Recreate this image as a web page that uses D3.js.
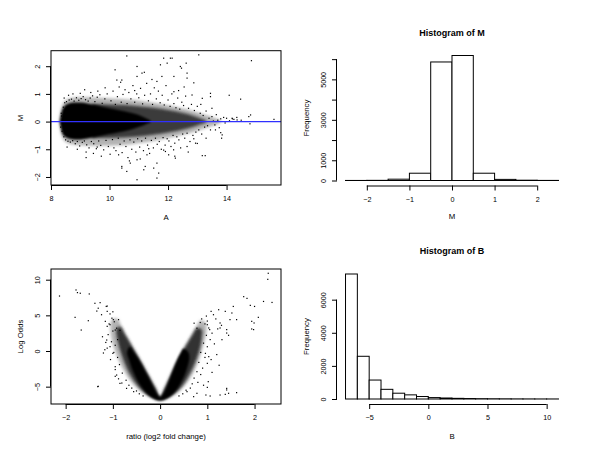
<!DOCTYPE html>
<html><head><meta charset="utf-8">
<script src="https://cdn.jsdelivr.net/npm/d3@7"></script>
<style>
body{margin:0;background:#fff}
svg{display:block}
text{font-family:"Liberation Sans",Arial,Helvetica,sans-serif;fill:#000}
</style>
</head><body>
<svg id="c" width="600" height="464"></svg>
<script>
// ---------------- DATA ----------------
// Panel 1: MA plot (A vs M)
const maXTicks = [8, 10, 12, 14];
const maYTicks = [-2, -1, 0, 1, 2];
// density envelopes of the point cloud (A, upper M, lower M)
const maFringeA  = [8.28, 8.34, 8.45, 8.65, 9.0, 9.4, 9.8, 10.2, 10.6, 11.0, 11.5, 12.0, 12.5, 13.0, 13.4, 13.8];
const maFringeHi = [0.05, 0.5, 0.76, 0.86, 0.88, 0.87, 0.85, 0.82, 0.8, 0.76, 0.68, 0.6, 0.48, 0.34, 0.2, 0.05];
const maFringeLo = [-0.05, -0.5, -0.72, -0.82, -0.86, -0.88, -0.88, -0.86, -0.84, -0.78, -0.7, -0.6, -0.48, -0.34, -0.2, -0.05];
const maMidA  = [9.4, 10.0, 10.5, 11.0, 11.5, 12.0, 12.5, 12.9, 13.3];
const maMidHi = [0.64, 0.62, 0.6, 0.56, 0.5, 0.42, 0.32, 0.2, 0.04];
const maMidLo = [-0.6, -0.6, -0.58, -0.54, -0.48, -0.4, -0.3, -0.18, -0.04];
const maCoreA  = [8.3, 8.36, 8.45, 8.6, 8.8, 9.0, 9.25, 9.5, 9.75, 10.0, 10.25, 10.5, 10.8, 11.1, 11.4];
const maCoreHi = [0.0, 0.38, 0.57, 0.66, 0.69, 0.69, 0.66, 0.6, 0.54, 0.48, 0.43, 0.38, 0.3, 0.2, 0.04];
const maCoreLo = [0.0, -0.38, -0.55, -0.62, -0.65, -0.65, -0.62, -0.56, -0.5, -0.45, -0.4, -0.35, -0.27, -0.17, -0.03];
// individual points (A, M)
const maPoints = [
[10.59,2.37],[11.85,2.29],[12.14,2.29],[13.05,2.41],[14.85,2.2],[11.97,2.11],[10.94,1.99],[10.19,1.87],[11.19,1.78],[12.62,2.11],
[12.65,1.75],[12.46,1.93],[12.2,1.63],[11.62,1.45],[11.79,1.63],[10.25,1.5],[10.94,1.63],[12.88,1.4],[12.2,1.08],[13.45,1.02],
[14.09,0.95],[14.48,0.81],[13.45,0.9],[13.17,0.84],[14.25,0.08],[14.76,0.18],[15.62,0.08],[14.8,-0.08],[13.85,-0.48],[13.17,-1.23],
[13.27,-1.23],[12.65,-0.9],[12.23,-1.25],[11.62,-1.5],[11.68,-1.86],[10.94,-2.1],[10.59,-1.8],[10.42,-1.62],[10.94,-1.38],[11.17,-1.74],
[9.2,-1.3],[11.28,-1.2],[10.31,-1.2],[11.85,-1.03],[13.0,-0.79],[10.42,1.5],[11.11,1.75],[11.74,2.05],[10.42,-1.68],[10.71,-1.5],
[11.22,-1.62],[11.51,-1.68],[11.62,-2.04],[14.82,0.24],[14.19,0.12],[14.36,0.06],[13.83,-0.6],[12.94,-0.78],[12.25,-1.32],[12.69,-1.1],
[11.91,-1.08],[12.19,-1.02],[12.82,0.96],[12.65,1.57],[12.42,1.99],[12.08,2.29],
[8.35,0.3],[8.38,-0.35],[8.42,0.52],[8.44,-0.55],[8.47,0.68],[8.5,-0.66],[8.53,0.72],[8.58,-0.71],[8.62,0.78],[8.66,-0.74],
[8.7,0.81],[8.74,-0.69],[8.79,0.74],[8.83,-0.8],[8.87,0.86],[8.9,-0.72],[8.95,0.77],[8.98,-0.88],[9.03,0.83],[9.07,-0.75],
[9.1,0.9],[9.14,-0.7],[9.18,0.79],[9.22,-0.84],[9.27,0.74],[9.3,-0.95],[9.34,0.85],[9.38,-0.72],[9.42,0.93],[9.46,-0.8],
[9.5,0.72],[9.55,-0.98],[9.58,0.88],[9.63,-0.7],[9.67,0.97],[9.7,-0.86],[9.75,0.66],[9.8,-1.02],[9.84,0.82],[9.88,-0.68],
[9.92,1.0],[9.96,-0.9],[8.6,0.95],[8.9,-1.0],[9.0,1.02],[9.2,-1.1],[8.45,0.85],[9.6,1.1],[9.45,-1.15],[8.33,-0.2],[8.36,0.2],
[10.05,0.75],[10.1,-0.65],[10.12,1.1],[10.15,-0.95],[10.2,0.62],[10.22,-1.05],[10.27,0.9],[10.3,-0.6],[10.33,1.25],[10.36,-0.82],
[10.4,0.7],[10.43,-1.12],[10.46,0.98],[10.5,-0.7],[10.53,1.15],[10.56,-0.9],[10.6,0.65],[10.63,-1.3],[10.66,1.05],[10.7,-0.66],
[10.73,0.82],[10.76,-1.0],[10.8,1.3],[10.83,-0.74],[10.86,0.7],[10.9,-1.1],[10.93,1.0],[10.96,-0.62],[11.0,0.86],[11.03,-0.92],
[11.06,1.2],[11.1,-0.7],[11.13,0.64],[11.16,-1.05],[11.2,0.95],[11.23,-0.6],[11.27,1.38],[11.3,-0.85],[11.33,0.75],[11.37,-1.15],
[11.4,1.0],[11.43,-0.68],[11.47,0.62],[11.5,-0.95],[11.53,1.22],[11.57,-0.6],[11.6,0.82],[11.63,-0.82],[11.67,1.1],[11.7,-0.72],
[11.73,0.68],[11.77,-1.0],[11.8,0.95],[11.83,-0.58],[11.87,0.6],[11.9,-0.85],[11.93,1.3],[11.97,-0.62],
[12.0,0.78],[12.03,-0.7],[12.07,0.55],[12.1,-0.9],[12.13,1.0],[12.17,-0.5],[12.2,0.65],[12.23,-0.78],[12.27,0.5],[12.3,-0.55],
[12.33,0.85],[12.37,-0.66],[12.4,0.45],[12.43,-0.95],[12.47,0.7],[12.5,-0.45],[12.53,0.58],[12.57,-0.6],[12.6,0.92],[12.65,-0.42],
[12.7,0.48],[12.75,-0.72],[12.8,0.62],[12.85,-0.5],[12.9,0.4],[12.95,-0.38],[13.0,0.55],[13.05,-0.3],[13.1,0.3],[13.15,-0.45],
[13.2,0.22],[13.25,-0.2],[13.3,0.38],[13.35,-0.15],[13.4,0.12],[13.45,-0.3],[13.5,0.18],[13.55,0.02],[13.6,-0.12],[13.65,0.25],
[13.7,0.05],[13.75,-0.22],[13.8,0.1],[13.9,0.15],[13.95,-0.05],[14.0,0.12],[14.1,0.03],[14.2,0.1],[14.35,0.15],[14.5,0.05],
[13.5,0.48],[13.3,-0.6],[13.8,-0.4],
[9.15,1.15],[9.85,1.22],[10.02,-1.18],[9.72,-1.25],[10.38,1.42],[10.68,-1.42],[11.45,1.52],[11.05,-1.35],[12.55,1.25],[12.02,-1.2],
[8.75,1.0],[8.55,-0.92],[9.36,1.05],[9.58,-0.92],[10.86,1.12],[11.34,-0.98],[12.36,1.12],[12.88,-0.62],[13.12,0.62],[13.62,-0.3]
];

// Panel 2: histogram of M
const histMBreaks = [-2.5, -2, -1.5, -1, -0.5, 0, 0.5, 1, 1.5, 2, 2.5];
const histMCounts = [3, 8, 65, 360, 5860, 6180, 360, 55, 15, 5];
const histMXTicks = [-2, -1, 0, 1, 2];
const histMYTicks = [0, 1000, 2000, 3000, 4000, 5000, 6000];
const histMYLabels = [0, 1000, 3000, 5000];

// Panel 3: volcano plot (ratio, log odds)
const volXTicks = [-2, -1, 0, 1, 2];
const volYTicks = [-5, 0, 5, 10];
const volFringe = [[-1.02,4.4],[-1.05,2.8],[-1.0,1.0],[-0.92,-0.6],[-0.82,-2.1],[-0.7,-3.5],[-0.56,-4.7],[-0.4,-5.7],[-0.22,-6.4],[0,-6.95],
  [0.22,-6.4],[0.4,-5.6],[0.55,-4.6],[0.68,-3.3],[0.78,-1.9],[0.86,-0.4],[0.93,1.2],[0.98,2.8],[0.96,4.0],[0.86,4.3],
  [0.74,3.1],[0.62,1.7],[0.5,0.3],[0.4,-1.0],[0.3,-2.4],[0.2,-3.8],[0.1,-5.2],[0,-6.4],[-0.1,-5.2],[-0.22,-3.8],
  [-0.34,-2.4],[-0.46,-1.0],[-0.58,0.4],[-0.7,1.8],[-0.8,3.1],[-0.9,4.5]];
const volMid = [[-0.92,3.2],[-0.9,1.5],[-0.84,0],[-0.76,-1.5],[-0.66,-3.0],[-0.54,-4.3],[-0.4,-5.4],[-0.22,-6.3],[0,-6.9],[0.22,-6.3],
  [0.4,-5.4],[0.54,-4.2],[0.66,-2.8],[0.76,-1.3],[0.84,0.3],[0.88,1.8],[0.88,3.0],[0.78,3.2],[0.68,2.2],[0.56,0.9],
  [0.45,-0.4],[0.34,-1.8],[0.22,-3.5],[0.1,-5.2],[0,-6.45],[-0.1,-5.2],[-0.24,-3.5],[-0.38,-1.8],[-0.5,-0.4],[-0.62,1.0],
  [-0.74,2.3],[-0.84,3.4]];
const volCore = [[-0.7,-0.2],[-0.66,-1.2],[-0.6,-2.4],[-0.52,-3.6],[-0.43,-4.7],[-0.33,-5.6],[-0.22,-6.3],[-0.1,-6.75],[0,-6.9],[0.1,-6.75],
  [0.22,-6.3],[0.33,-5.6],[0.43,-4.6],[0.52,-3.4],[0.58,-2.2],[0.62,-1.0],[0.6,-0.2],[0.5,0.3],[0.43,-0.4],[0.36,-1.3],
  [0.29,-2.4],[0.22,-3.6],[0.15,-4.8],[0.08,-5.8],[0,-6.45],[-0.08,-5.8],[-0.16,-4.8],[-0.25,-3.6],[-0.35,-2.4],[-0.45,-1.2],
  [-0.55,-0.2],[-0.64,0.6]];
const volPoints = [
[2.29,10.9],[2.28,10.05],[-2.13,7.71],[-1.78,8.56],[-1.75,8.19],[-1.69,8.1],[-1.5,8.0],[-1.8,4.72],[-1.67,2.94],[-1.52,4.25],
[-1.32,-5.0],[-1.38,6.69],[-1.27,6.78],[-1.34,5.6],[-1.31,6.0],[-1.14,6.25],[-1.12,5.56],[-1.24,5.09],[-1.16,4.16],[-1.12,3.46],
[-1.06,3.69],[-0.99,4.4],[-0.95,2.94],[-1.13,1.54],[-1.06,0.61],[-1.0,-0.33],[-0.95,-2.2],[-0.92,-3.37],[-0.85,-4.54],[-0.71,-5.24],
[-0.56,-5.7],[1.77,7.62],[1.84,7.38],[2.0,6.25],[2.19,6.95],[2.37,6.81],[1.94,4.16],[1.99,3.93],[1.94,3.09],[2.08,4.72],
[1.48,4.4],[1.38,5.56],[1.62,4.4],[1.55,6.25],[1.24,5.79],[1.13,5.09],[1.0,3.69],[1.08,5.56],[1.03,3.23],[1.27,3.23],
[1.41,3.0],[1.31,1.59],[1.03,-0.79],[0.96,-0.33],[1.0,-1.73],[1.02,-4.3],[0.97,-6.17],[1.06,-6.31],[1.27,-6.17],[1.38,-6.08],
[1.41,-5.46],[1.45,-5.93],[1.62,-5.84],[1.41,-5.24],[0.78,-5.93],[0.71,-6.4],[0.57,-5.7],[1.91,6.4],[1.98,3.0],[1.52,5.33],
[1.27,3.93],[1.41,2.52],
[-1.02,4.6],[-0.97,4.1],[-1.08,3.8],[-0.92,3.2],[-1.0,2.8],[-1.1,2.3],[-0.9,1.6],[-1.03,1.3],[-0.95,0.8],[-1.12,0.4],
[-0.98,-0.2],[-0.9,-0.9],[-1.05,-1.2],[-0.86,-1.9],[-0.95,-2.6],[-0.8,-3.1],[-0.88,-3.9],[-0.72,-4.1],[-0.66,-4.8],[-0.6,-5.2],
[-0.5,-5.6],[-0.44,-6.0],[-0.36,-6.3],[-1.17,0.18],[-1.2,-0.28],[-0.95,-3.55],[-0.81,-4.49],[-1.31,-4.95],[-1.15,1.2],[-1.22,2.0],
[-0.85,2.9],[-0.88,4.4],[-1.06,5.2],[-1.12,6.3],[-1.0,5.5],
[0.95,3.8],[0.88,4.5],[1.0,4.2],[1.05,3.0],[0.98,2.2],[1.06,1.6],[0.92,1.1],[1.0,0.6],[0.86,-0.2],[0.95,-0.9],
[0.82,-1.6],[0.9,-2.4],[0.78,-2.9],[0.86,-3.3],[0.72,-3.8],[0.8,-4.4],[0.68,-4.6],[0.64,-5.2],[0.55,-5.5],[0.48,-6.0],
[0.4,-6.3],[1.1,2.5],[1.15,1.0],[1.2,-0.5],[1.08,-1.2],[1.25,-2.0],[1.1,-3.0],[0.92,-4.8],[1.0,-5.1],[1.18,4.5],
[1.3,3.6],[0.98,4.9],[1.45,2.2],[1.22,3.1],[0.85,4.0],[0.78,3.2],[0.72,3.9]
];

// Panel 4: histogram of B
const histBBreaks = [-7, -6, -5, -4, -3, -2, -1, 0, 1, 2, 3, 4, 5, 6, 7, 8, 9, 10, 11];
const histBCounts = [7550, 2580, 1145, 584, 350, 250, 150, 85, 60, 40, 28, 20, 15, 12, 8, 6, 4, 3];
const histBXTicks = [-5, 0, 5, 10];
const histBYTicks = [0, 2000, 4000, 6000];

// ---------------- DRAWING ----------------
const svg = d3.select("#c");
const defs = svg.append("defs");
defs.append("filter").attr("id", "soft").attr("x", "-20%").attr("y", "-20%").attr("width", "140%").attr("height", "140%")
  .append("feGaussianBlur").attr("stdDeviation", 1.6);
defs.append("filter").attr("id", "softc").attr("x", "-20%").attr("y", "-20%").attr("width", "140%").attr("height", "140%")
  .append("feGaussianBlur").attr("stdDeviation", 0.9);
const TICK_FS = 7.2, LAB_FS = 7.8, TITLE_FS = 9;
const fmt = d => d < 0 ? "\u2212" + Math.abs(d) : String(d);

function xAxis(g, s, ticks, y) {
  const a = g.append("g").attr("transform", `translate(0,${y})`)
    .call(d3.axisBottom(s).tickValues(ticks).tickSize(5).tickSizeOuter(0).tickFormat(fmt));
  a.attr("font-family", null).attr("font-size", null);
  a.select(".domain").attr("d", `M${s(ticks[0])},0.5H${s(ticks[ticks.length-1])}`).attr("stroke", "#000");
  a.selectAll(".tick line").attr("stroke", "#000");
  a.selectAll(".tick text").attr("y", 13.5).attr("dy", null).attr("dominant-baseline", "central")
    .style("font-size", TICK_FS + "px");
}
function yAxis(g, s, ticks, labels, x) {
  const a = g.append("g").attr("transform", `translate(${x},0)`)
    .call(d3.axisLeft(s).tickValues(ticks).tickSize(5).tickSizeOuter(0)
      .tickFormat(d => labels.includes(d) ? fmt(d) : ""));
  a.attr("font-family", null).attr("font-size", null);
  a.select(".domain").attr("d", `M-0.5,${s(ticks[0])}V${s(ticks[ticks.length-1])}`).attr("stroke", "#000");
  a.selectAll(".tick line").attr("stroke", "#000");
  a.selectAll(".tick text").attr("x", 0).attr("y", -13.7).attr("dy", null)
    .attr("transform", "rotate(-90)").attr("text-anchor", "middle").attr("dominant-baseline", "central")
    .style("font-size", TICK_FS + "px");
}
function label(x, y, txt, rot, fs, bold) {
  svg.append("text").attr("x", 0).attr("y", 0)
    .attr("transform", `translate(${x},${y})` + (rot ? " rotate(-90)" : ""))
    .attr("text-anchor", "middle").attr("dominant-baseline", "central")
    .style("font-size", fs + "px").style("font-weight", bold ? "bold" : "normal").text(txt);
}
function envelope(A, hi, lo) { return A.map((a, i) => ({a, hi: hi[i], lo: lo[i]})); }

// ---- Panel 1: MA plot
{
  const x = d3.scaleLinear([8, 15.86], [51, 281]);
  const y = d3.scaleLinear([-2.29, 2.56], [185, 50.7]);
  const g = svg.append("g");
  defs.append("clipPath").attr("id", "clip1").append("rect")
    .attr("x", 51).attr("y", 50.7).attr("width", 230).attr("height", 134.3);
  const pg = g.append("g").attr("clip-path", "url(#clip1)");
  const area = d3.area().x(d => x(d.a)).y0(d => y(d.lo)).y1(d => y(d.hi)).curve(d3.curveBasis);
  pg.append("path").attr("d", area(envelope(maFringeA, maFringeHi, maFringeLo))).attr("fill", "#b4b4b4").attr("filter", "url(#soft)");
  pg.append("path").attr("d", area(envelope(maMidA, maMidHi, maMidLo))).attr("fill", "#3a3a3a").attr("filter", "url(#soft)");
  pg.append("path").attr("d", area(envelope(maCoreA, maCoreHi, maCoreLo))).attr("fill", "#000").attr("filter", "url(#softc)");
  pg.selectAll("rect.pt").data(maPoints).join("rect").attr("class", "pt")
    .attr("x", d => x(d[0]) - 0.6).attr("y", d => y(d[1]) - 0.6).attr("width", 1.2).attr("height", 1.2).attr("fill", "#000");
  pg.append("line").attr("x1", 51).attr("x2", 281).attr("y1", y(0)).attr("y2", y(0))
    .attr("stroke", "#3030ff").attr("stroke-width", 1.4);
  g.append("rect").attr("x", 51).attr("y", 50.7).attr("width", 230).attr("height", 134.3)
    .attr("fill", "none").attr("stroke", "#000");
  xAxis(g, x, maXTicks, 185);
  yAxis(g, y, maYTicks, maYTicks, 51);
  label(166, 217, "A", false, LAB_FS);
  label(20, 118, "M", true, LAB_FS);
}

// ---- Panel 2: histogram of M
{
  const x = d3.scaleLinear([-2.7, 2.7], [337, 567]);
  const mx = d3.max(histMCounts);
  const y = d3.scaleLinear([-0.04 * mx, 1.04 * mx], [185.5, 50.5]);
  const g = svg.append("g");
  g.selectAll("rect.bar").data(histMCounts).join("rect").attr("class", "bar")
    .attr("x", (d, i) => x(histMBreaks[i])).attr("width", (d, i) => x(histMBreaks[i + 1]) - x(histMBreaks[i]))
    .attr("y", d => y(d)).attr("height", d => y(0) - y(d))
    .attr("fill", "#fff").attr("stroke", "#000").attr("stroke-width", 1);
  xAxis(g, x, histMXTicks, 185.5);
  yAxis(g, y, histMYTicks, histMYLabels, 337);
  label(452, 216.7, "M", false, LAB_FS);
  label(306, 118, "Frequency", true, LAB_FS);
  label(452, 32.5, "Histogram of M", false, TITLE_FS, true);
}

// ---- Panel 3: volcano plot
{
  const x = d3.scaleLinear([-2.31, 2.56], [51, 281]);
  const y = d3.scaleLinear([-7.43, 11.5], [404, 269]);
  const g = svg.append("g");
  defs.append("clipPath").attr("id", "clip3").append("rect")
    .attr("x", 51).attr("y", 269).attr("width", 230).attr("height", 135);
  const pg = g.append("g").attr("clip-path", "url(#clip3)");
  const poly = d3.line().x(d => x(d[0])).y(d => y(d[1])).curve(d3.curveCatmullRomClosed);
  pg.append("path").attr("d", poly(volFringe)).attr("fill", "#b4b4b4").attr("filter", "url(#soft)");
  pg.append("path").attr("d", poly(volMid)).attr("fill", "#333").attr("filter", "url(#soft)");
  pg.append("path").attr("d", poly(volCore)).attr("fill", "#000").attr("filter", "url(#softc)");
  pg.selectAll("rect.pt").data(volPoints).join("rect").attr("class", "pt")
    .attr("x", d => x(d[0]) - 0.6).attr("y", d => y(d[1]) - 0.6).attr("width", 1.2).attr("height", 1.2).attr("fill", "#000");
  g.append("rect").attr("x", 51).attr("y", 269).attr("width", 230).attr("height", 135)
    .attr("fill", "none").attr("stroke", "#000");
  xAxis(g, x, volXTicks, 404);
  yAxis(g, y, volYTicks, volYTicks, 51);
  label(166, 436.7, "ratio (log2 fold change)", false, LAB_FS);
  label(20, 336.5, "Log Odds", true, LAB_FS);
}

// ---- Panel 4: histogram of B
{
  const x = d3.scaleLinear([-7.72, 11.72], [337, 567]);
  const mx = d3.max(histBCounts);
  const y = d3.scaleLinear([-0.04 * mx, 1.04 * mx], [404, 269]);
  const g = svg.append("g");
  g.selectAll("rect.bar").data(histBCounts).join("rect").attr("class", "bar")
    .attr("x", (d, i) => x(histBBreaks[i])).attr("width", (d, i) => x(histBBreaks[i + 1]) - x(histBBreaks[i]))
    .attr("y", d => y(d)).attr("height", d => y(0) - y(d))
    .attr("fill", "#fff").attr("stroke", "#000").attr("stroke-width", 1);
  xAxis(g, x, histBXTicks, 404);
  yAxis(g, y, histBYTicks, histBYTicks, 337);
  label(452, 436, "B", false, LAB_FS);
  label(306, 336.5, "Frequency", true, LAB_FS);
  label(452, 251, "Histogram of B", false, TITLE_FS, true);
}
</script>
</body></html>
